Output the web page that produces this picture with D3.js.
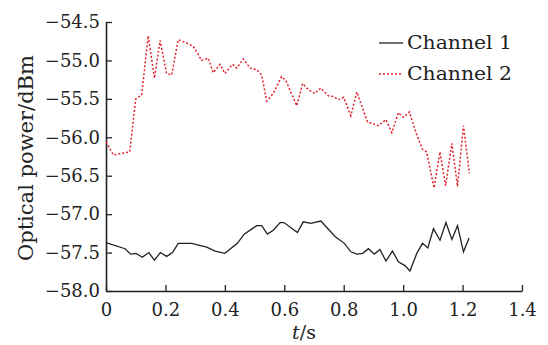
<!DOCTYPE html>
<html><head><meta charset="utf-8">
<script src="https://cdn.jsdelivr.net/npm/d3@7"></script>
<style>body{margin:0;background:#fff}svg{display:block}</style>
</head><body><svg id="c" width="548" height="345"></svg>
<script>
const seriesNames = ["Channel 1", "Channel 2"];
const xTicks = [0, 0.2, 0.4, 0.6, 0.8, 1.0, 1.2, 1.4];
const yTicks = [-54.5, -55.0, -55.5, -56.0, -56.5, -57.0, -57.5, -58.0];
const t1 = [0,0.064,0.083,0.101,0.122,0.144,0.163,0.183,0.204,0.224,0.243,0.288,0.339,0.367,0.40,0.442,0.465,0.507,0.524,0.543,0.563,0.586,0.599,0.644,0.664,0.689,0.723,0.771,0.802,0.824,0.844,0.864,0.883,0.903,0.922,0.942,0.964,0.984,1.006,1.023,1.046,1.065,1.083,1.102,1.124,1.144,1.164,1.183,1.203,1.222];
const ch1 = [-57.37,-57.45,-57.52,-57.51,-57.56,-57.50,-57.60,-57.50,-57.55,-57.50,-57.38,-57.38,-57.43,-57.48,-57.51,-57.38,-57.26,-57.15,-57.15,-57.26,-57.21,-57.11,-57.11,-57.24,-57.10,-57.12,-57.09,-57.29,-57.38,-57.49,-57.52,-57.51,-57.45,-57.52,-57.46,-57.61,-57.48,-57.62,-57.67,-57.74,-57.51,-57.38,-57.44,-57.19,-57.34,-57.11,-57.33,-57.15,-57.49,-57.31];
const t2 = [0,0.025,0.08,0.10,0.12,0.142,0.163,0.182,0.204,0.221,0.243,0.27,0.294,0.322,0.344,0.361,0.384,0.40,0.426,0.44,0.462,0.485,0.507,0.524,0.541,0.563,0.591,0.605,0.642,0.662,0.681,0.703,0.723,0.748,0.765,0.782,0.80,0.824,0.844,0.88,0.917,0.942,0.962,0.984,1.001,1.021,1.046,1.066,1.079,1.104,1.124,1.143,1.164,1.183,1.203,1.223];
const ch2 = [-56.06,-56.23,-56.19,-55.50,-55.45,-54.68,-55.23,-54.74,-55.17,-55.19,-54.73,-54.77,-54.82,-55.00,-54.97,-55.16,-55.05,-55.17,-55.05,-55.10,-54.98,-55.10,-55.12,-55.19,-55.53,-55.43,-55.21,-55.26,-55.59,-55.30,-55.38,-55.43,-55.36,-55.46,-55.47,-55.51,-55.48,-55.72,-55.41,-55.80,-55.85,-55.77,-55.94,-55.68,-55.74,-55.67,-55.97,-56.16,-56.19,-56.66,-56.19,-56.63,-56.08,-56.64,-55.85,-56.47];

const font = "'DejaVu Serif', serif";
const svg = d3.select("#c");
const L = 106, R = 522, T = 22, B = 291;
const x = d3.scaleLinear().domain([0, 1.4]).range([L, R]);
const y = d3.scaleLinear().domain([-58, -54.5]).range([B, T]);

const xa = svg.append("g").attr("transform", `translate(0,${B})`)
  .call(d3.axisBottom(x).tickValues(xTicks).tickSizeInner(-6).tickSizeOuter(0).tickPadding(12)
    .tickFormat(d => d === 0 ? "0" : d3.format(".1f")(d)));
const ya = svg.append("g").attr("transform", `translate(${L},0)`)
  .call(d3.axisLeft(y).tickValues(yTicks).tickSizeInner(-6).tickSizeOuter(0).tickPadding(6)
    .tickFormat(d3.format(".1f")));
[xa, ya].forEach(a => {
  a.select(".domain").attr("stroke", "#222").attr("stroke-width", 1.6);
  a.selectAll(".tick line").attr("stroke", "#222").attr("stroke-width", 1.3);
  a.selectAll(".tick text").attr("font-family", font).attr("font-size", 18).attr("fill", "#222");
});

const line = d3.line().x(d => x(d[0])).y(d => y(d[1]));
svg.append("path").datum(t1.map((t, i) => [t, ch1[i]]))
  .attr("d", line).attr("fill", "none").attr("stroke", "#222").attr("stroke-width", 1.3);
svg.append("path").datum(t2.map((t, i) => [t, ch2[i]]))
  .attr("d", line).attr("fill", "none").attr("stroke", "#e3202c").attr("stroke-width", 1.5)
  .attr("stroke-dasharray", "2,2");

// legend
const lg = svg.append("g");
const rows = [{c: "#222", d: null}, {c: "#e3202c", d: "2,2"}];
rows.forEach((r, i) => {
  const yy = 43 + i * 31;
  lg.append("line").attr("x1", 379).attr("x2", 403).attr("y1", yy).attr("y2", yy)
    .attr("stroke", r.c).attr("stroke-width", r.d ? 1.5 : 1.3).attr("stroke-dasharray", r.d);
  lg.append("text").attr("x", 407).attr("y", yy + 6).attr("font-family", font).attr("font-size", 18)
    .attr("fill", "#222").attr("textLength", 105).attr("lengthAdjust", "spacingAndGlyphs").text(seriesNames[i]);
});

// axis titles
svg.append("text").attr("transform", "translate(33,158) rotate(-90)").attr("text-anchor", "middle")
  .attr("font-family", font).attr("font-size", 19.5).attr("fill", "#222")
  .attr("textLength", 206).attr("lengthAdjust", "spacingAndGlyphs").text("Optical power/dBm");
const xt = svg.append("text").attr("x", 304).attr("y", 339).attr("text-anchor", "middle")
  .attr("font-family", font).attr("font-size", 19).attr("fill", "#222");
xt.append("tspan").attr("font-style", "italic").text("t");
xt.append("tspan").text("/s");
</script></body></html>
